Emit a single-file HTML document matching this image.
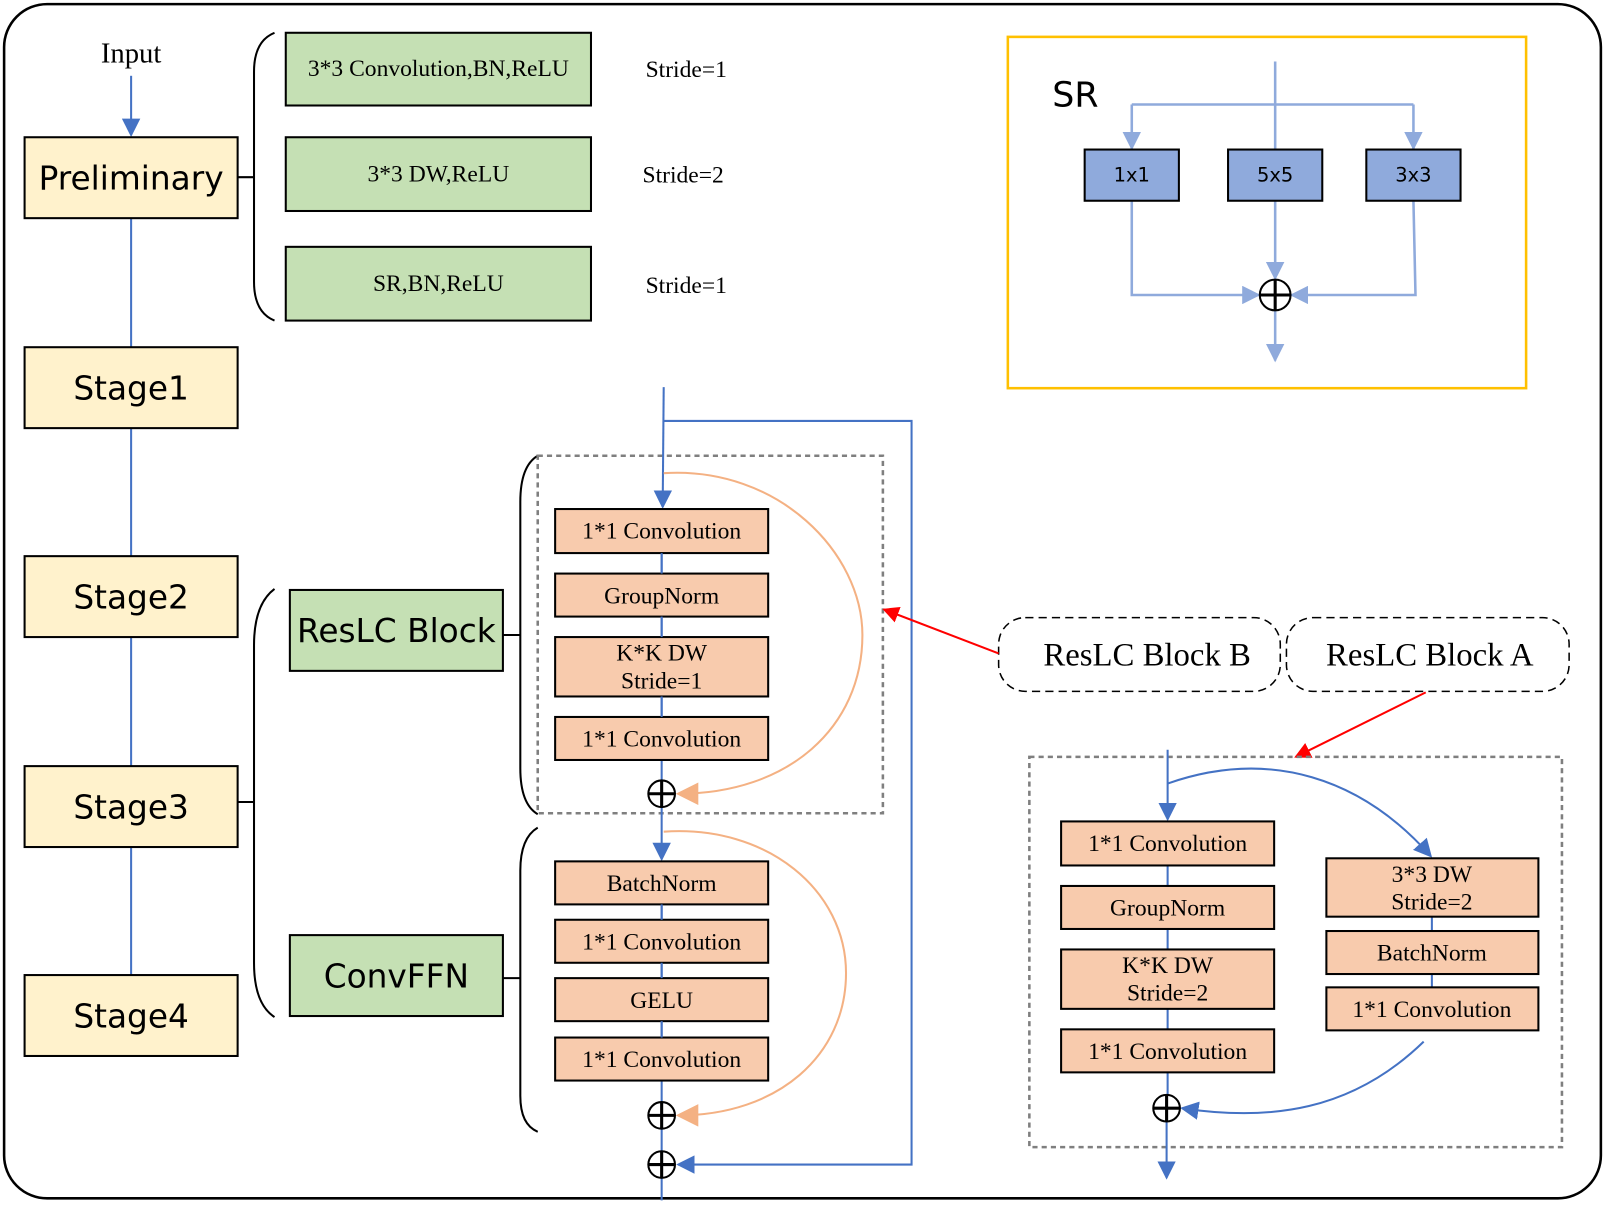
<!DOCTYPE html>
<html><head><meta charset="utf-8"><style>
html,body{margin:0;padding:0;background:#fff;}
svg{display:block;}
.s{font-family:"Liberation Serif",serif;fill:#000;}
.a{font-family:"DejaVu Sans","Liberation Sans",sans-serif;fill:#000;}
</style></head><body>
<svg width="1606" height="1205" viewBox="0 0 1568 1176.5" xmlns="http://www.w3.org/2000/svg">
<defs>
<marker id="bb" viewBox="0 0 10 10" markerWidth="18" markerHeight="18" refX="9" refY="5" orient="auto" markerUnits="userSpaceOnUse"><path d="M0,0 L10,5 L0,10z" fill="#4472c4"/></marker>
<marker id="lb" viewBox="0 0 10 10" markerWidth="18" markerHeight="18" refX="9" refY="5" orient="auto" markerUnits="userSpaceOnUse"><path d="M0,0 L10,5 L0,10z" fill="#8faadc"/></marker>
<marker id="or" viewBox="0 0 10 10" markerWidth="22" markerHeight="22" refX="9" refY="5" orient="auto" markerUnits="userSpaceOnUse"><path d="M0,0 L10,5 L0,10z" fill="#f4b183"/></marker>
<marker id="rd" viewBox="0 0 10 10" markerWidth="16" markerHeight="16" refX="9" refY="5" orient="auto" markerUnits="userSpaceOnUse"><path d="M0,0 L10,5 L0,10z" fill="#ff0000"/></marker>
</defs>
<rect x="4" y="4" width="1559" height="1166" rx="42" fill="#fff" stroke="#000" stroke-width="2.5"/>

<text x="128" y="61" class="s" font-size="28" text-anchor="middle">Input</text>
<line x1="128" y1="74" x2="128" y2="132" stroke="#4472c4" stroke-width="2" marker-end="url(#bb)"/>
<g stroke="#4472c4" stroke-width="2">
<line x1="128" y1="213" x2="128" y2="339"/><line x1="128" y1="418" x2="128" y2="543"/>
<line x1="128" y1="622" x2="128" y2="748"/><line x1="128" y1="827" x2="128" y2="952"/>
</g>
<g fill="#fff2cc" stroke="#000" stroke-width="2">
<rect x="24" y="134" width="208" height="79"/><rect x="24" y="339" width="208" height="79"/>
<rect x="24" y="543" width="208" height="79"/><rect x="24" y="748" width="208" height="79"/>
<rect x="24" y="952" width="208" height="79"/>
</g>
<g class="a" font-size="32" text-anchor="middle">
<text x="128" y="185">Preliminary</text><text x="128" y="390">Stage1</text>
<text x="128" y="594">Stage2</text><text x="128" y="799">Stage3</text><text x="128" y="1003">Stage4</text>
</g>

<g fill="none" stroke="#000" stroke-width="2">
<line x1="232" y1="173" x2="248" y2="173"/>
<path d="M268,32 Q248,40 248,70 L248,275 Q248,305 268,313"/>
<line x1="232" y1="783" x2="248" y2="783"/>
<path d="M268,575 Q248,590 248,630 L248,940 Q248,980 268,993"/>
<line x1="491" y1="620" x2="508" y2="620"/>
<path d="M525,445 Q508,455 508,490 L508,750 Q508,785 525,795"/>
<line x1="491" y1="955" x2="508" y2="955"/>
<path d="M525,808 Q508,818 508,850 L508,1070 Q508,1098 525,1105"/>
</g>
<g fill="#c5e0b4" stroke="#000" stroke-width="2">
<rect x="279" y="32" width="298" height="71"/><rect x="279" y="134" width="298" height="72"/>
<rect x="279" y="241" width="298" height="72"/>
<rect x="283" y="576" width="208" height="79"/><rect x="283" y="913" width="208" height="79"/>
</g>
<g class="s" font-size="23" text-anchor="middle">
<text x="428" y="74">3*3 Convolution,BN,ReLU</text>
<text x="428" y="177">3*3 DW,ReLU</text>
<text x="428" y="284">SR,BN,ReLU</text>
<text x="670" y="75">Stride=1</text><text x="667" y="178">Stride=2</text><text x="670" y="286">Stride=1</text>
</g>
<g class="a" font-size="32" text-anchor="middle">
<text x="387" y="627">ResLC Block</text><text x="387" y="964">ConvFFN</text>
</g>

<rect x="984" y="36" width="506" height="343" fill="none" stroke="#ffc000" stroke-width="2.5"/>
<text x="1050" y="104" class="a" font-size="34" text-anchor="middle">SR</text>
<g stroke="#8faadc" stroke-width="2.5" fill="none">
<line x1="1245" y1="60" x2="1245" y2="146"/>
<polyline points="1105,102 1380,102"/>
<line x1="1105" y1="102" x2="1105" y2="145" marker-end="url(#lb)"/>
<line x1="1380" y1="102" x2="1380" y2="145" marker-end="url(#lb)"/>
<polyline points="1105,196 1105,288 1229,288" marker-end="url(#lb)"/>
<line x1="1245" y1="196" x2="1245" y2="272" marker-end="url(#lb)"/>
<polyline points="1380,196 1382,288 1261,288" marker-end="url(#lb)"/>
<line x1="1245" y1="303" x2="1245" y2="352" marker-end="url(#lb)"/>
</g>
<g fill="#8faadc" stroke="#000" stroke-width="2">
<rect x="1059" y="146" width="92" height="50"/><rect x="1199" y="146" width="92" height="50"/><rect x="1334" y="146" width="92" height="50"/>
</g>
<g class="a" font-size="19" text-anchor="middle">
<text x="1105" y="177">1x1</text><text x="1245" y="177">5x5</text><text x="1380" y="177">3x3</text>
</g>
<circle cx="1245" cy="288" r="15" stroke="#000" stroke-width="2" fill="#fff"/>
<g stroke="#000" stroke-width="3"><line x1="1230" y1="288" x2="1260" y2="288"/><line x1="1245" y1="273" x2="1245" y2="303"/></g>

<rect x="525" y="445" width="337" height="349" fill="none" stroke="#7f7f7f" stroke-width="2.5" stroke-dasharray="5,4"/>
<g stroke="#4472c4" stroke-width="2" fill="none">
<line x1="648" y1="378" x2="647" y2="495" marker-end="url(#bb)"/>
<polyline points="648,411 890,411 890,1137 662,1137" marker-end="url(#bb)"/>
<line x1="646" y1="540" x2="646" y2="762"/>
<line x1="646" y1="788" x2="646" y2="839" marker-end="url(#bb)"/>
<line x1="646" y1="883" x2="646" y2="1076"/>
<line x1="646" y1="1102" x2="646" y2="1124"/>
<line x1="646" y1="1150" x2="646" y2="1172"/>
</g>
<g fill="none" stroke="#f4b183" stroke-width="2">
<path d="M648,462 C760,455 842,540 842,620 C842,710 770,775 662,775" marker-end="url(#or)"/>
<path d="M648,812 C750,805 826,870 826,950 C826,1030 760,1089 662,1089" marker-end="url(#or)"/>
</g>
<g fill="#f8cbad" stroke="#000" stroke-width="2">
<rect x="542" y="497" width="208" height="43"/><rect x="542" y="560" width="208" height="42"/>
<rect x="542" y="622" width="208" height="58"/><rect x="542" y="700" width="208" height="42"/>
<rect x="542" y="841" width="208" height="42"/><rect x="542" y="898" width="208" height="42"/>
<rect x="542" y="955" width="208" height="42"/><rect x="542" y="1013" width="208" height="42"/>
</g>
<g stroke="#4472c4" stroke-width="2">
<line x1="646" y1="540" x2="646" y2="560"/><line x1="646" y1="602" x2="646" y2="622"/><line x1="646" y1="680" x2="646" y2="700"/>
<line x1="646" y1="883" x2="646" y2="898"/><line x1="646" y1="940" x2="646" y2="955"/><line x1="646" y1="997" x2="646" y2="1013"/>
</g>
<g class="s" font-size="23" text-anchor="middle">
<text x="646" y="526">1*1 Convolution</text><text x="646" y="589">GroupNorm</text>
<text x="646" y="645">K*K DW</text><text x="646" y="672">Stride=1</text>
<text x="646" y="729">1*1 Convolution</text>
<text x="646" y="870">BatchNorm</text><text x="646" y="927">1*1 Convolution</text>
<text x="646" y="984">GELU</text><text x="646" y="1042">1*1 Convolution</text>
</g>
<g stroke="#000" stroke-width="2" fill="#fff">
<circle cx="646" cy="775" r="13"/><circle cx="646" cy="1089" r="13"/><circle cx="646" cy="1137" r="13"/>
</g>
<g stroke="#000" stroke-width="3">
<line x1="633" y1="775" x2="659" y2="775"/><line x1="646" y1="762" x2="646" y2="788"/>
<line x1="633" y1="1089" x2="659" y2="1089"/><line x1="646" y1="1076" x2="646" y2="1102"/>
<line x1="633" y1="1137" x2="659" y2="1137"/><line x1="646" y1="1124" x2="646" y2="1150"/>
</g>

<g fill="#fff" stroke="#000" stroke-width="1.5" stroke-dasharray="8,5">
<rect x="975" y="603" width="275" height="72" rx="26"/><rect x="1256" y="603" width="276" height="72" rx="26"/>
</g>
<g class="s" font-size="32" text-anchor="middle">
<text x="1120" y="650">ResLC Block B</text><text x="1396" y="650">ResLC Block A</text>
</g>
<g stroke="#ff0000" stroke-width="2">
<line x1="975" y1="638" x2="863" y2="595" marker-end="url(#rd)"/>
<line x1="1392" y1="676" x2="1265" y2="739" marker-end="url(#rd)"/>
</g>

<rect x="1005" y="739" width="520" height="381" fill="none" stroke="#7f7f7f" stroke-width="2.5" stroke-dasharray="5,4"/>
<g stroke="#4472c4" stroke-width="2" fill="none">
<line x1="1140" y1="732" x2="1140" y2="800" marker-end="url(#bb)"/>
<line x1="1140" y1="845" x2="1140" y2="1069"/>
<line x1="1139" y1="1095" x2="1139" y2="1150" marker-end="url(#bb)"/>
<path d="M1140,765 C1240,730 1330,760 1397,836" marker-end="url(#bb)"/>
<path d="M1390,1017 C1320,1085 1240,1095 1154,1082" marker-end="url(#bb)"/>
<line x1="1398" y1="895" x2="1398" y2="909"/><line x1="1398" y1="951" x2="1398" y2="964"/>
</g>
<g fill="#f8cbad" stroke="#000" stroke-width="2">
<rect x="1036" y="802" width="208" height="43"/><rect x="1036" y="865" width="208" height="42"/>
<rect x="1036" y="927" width="208" height="58"/><rect x="1036" y="1005" width="208" height="42"/>
<rect x="1295" y="838" width="207" height="57"/><rect x="1295" y="909" width="207" height="42"/>
<rect x="1295" y="964" width="207" height="42"/>
</g>
<g class="s" font-size="23" text-anchor="middle">
<text x="1140" y="831">1*1 Convolution</text><text x="1140" y="894">GroupNorm</text>
<text x="1140" y="950">K*K DW</text><text x="1140" y="977">Stride=2</text>
<text x="1140" y="1034">1*1 Convolution</text>
<text x="1398" y="861">3*3  DW</text><text x="1398" y="888">Stride=2</text>
<text x="1398" y="938">BatchNorm</text><text x="1398" y="993">1*1 Convolution</text>
</g>
<circle cx="1139" cy="1082" r="13" fill="#fff" stroke="#000" stroke-width="2"/>
<g stroke="#000" stroke-width="3"><line x1="1126" y1="1082" x2="1152" y2="1082"/><line x1="1139" y1="1069" x2="1139" y2="1095"/></g>
</svg>
</body></html>
